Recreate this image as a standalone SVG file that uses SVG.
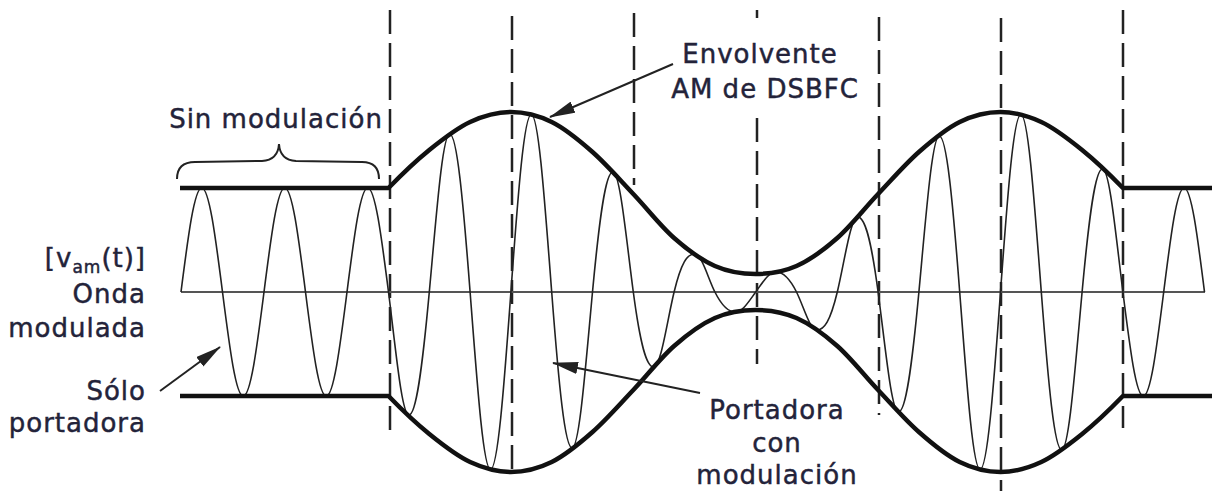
<svg xmlns="http://www.w3.org/2000/svg" width="1215" height="491" viewBox="0 0 1215 491">
<style>
.lbl{font-family:"DejaVu Sans","Liberation Sans",sans-serif;font-size:26px;fill:#23233a;stroke:#23233a;stroke-width:0.45;letter-spacing:1px}
.env{fill:none;stroke:#111;stroke-width:4.5;stroke-linejoin:round;stroke-linecap:butt}
.car{fill:none;stroke:#222;stroke-width:1.6}
.axis{stroke:#555;stroke-width:2}
.dash{stroke:#222;stroke-width:2.5;stroke-dasharray:24 9}
.arr{stroke:#222;stroke-width:2;fill:none;marker-end:url(#ah)}
.brace{fill:none;stroke:#222;stroke-width:2}
</style>
<defs>
<marker id="ah" markerUnits="userSpaceOnUse" markerWidth="26" markerHeight="12" refX="25" refY="6" orient="auto">
<path d="M0,0 L26,6 L0,12 z" fill="#222"/>
</marker>
</defs>
<rect width="1215" height="491" fill="#fff"/>
<g id="guides">
<line class="dash" x1="390" y1="10" x2="390" y2="430"/>
<line class="dash" x1="512" y1="16" x2="512" y2="478"/>
<line class="dash" x1="634" y1="13" x2="634" y2="185"/>
<line class="dash" x1="757" y1="10" x2="757" y2="18"/>
<line class="dash" x1="757" y1="118" x2="757" y2="364"/>
<line class="dash" x1="879" y1="17" x2="879" y2="415"/>
<line class="dash" x1="1001" y1="18" x2="1001" y2="491"/>
<line class="dash" x1="1123" y1="10" x2="1123" y2="428"/>
</g>
<g id="axis"><line class="axis" x1="181" y1="292" x2="1205" y2="292"/></g>
<g id="carrier">
<path class="car" d="M 181 292 C 188.3 234.6 194.45 188 201.75 188 S 215.2 234.6 222.5 292 S 235.95 396 243.25 396 S 256.7 349.4 264 292 S 277.45 188 284.75 188 S 298.2 234.6 305.5 292 S 318.95 396 326.25 396 S 339.7 349.4 347 292 S 360.45 188 367.75 188 S 381.2 234.6 388.5 292 S 401.7 415 408.9 415 S 422.1 370.4 429.3 292 S 442.5 134 449.7 134 S 462.9 198.1 470.1 292 S 483.3 469.5 490.5 469.5 S 503.7 391.4 510.9 292 S 524.1 114.5 531.3 114.5 S 544.5 198.1 551.7 292 S 564.9 448 572.1 448 S 585.3 369.3 592.5 292 S 605.7 172 612.9 172 S 626.1 237.9 633.3 292 S 646.5 367 653.7 367 S 666.9 321.8 674.1 292 S 687.3 254 694.5 254 S 707.7 277.6 714.9 292 S 728.1 312 735.3 312 S 748.5 301.9 755.7 292 S 768.9 272 776.1 272 S 789.3 277.6 796.5 292 S 809.7 330 816.9 330 S 830.1 321.8 837.3 292 S 850.5 217 857.7 217 S 870.9 237.9 878.1 292 S 891.3 412 898.5 412 S 911.7 369.3 918.9 292 S 932.1 136 939.3 136 S 952.5 198.1 959.7 292 S 972.9 469.5 980.1 469.5 S 993.3 391.4 1000.5 292 S 1013.7 114.5 1020.9 114.5 S 1034.1 198.1 1041.3 292 S 1054.5 450 1061.7 450 S 1074.9 370.4 1082.1 292 S 1095.3 169 1102.5 169 S 1115.7 234.6 1122.9 292 S 1136.1 396 1143.3 396 S 1156.5 349.4 1163.7 292 S 1176.9 188 1184.1 188 S 1197.3 234.6 1204.5 292"/>
</g>
<g id="envelope">
<path class="env" d="M 180 188 H 388.5 C 402.1 174 415.7 161 429.3 150 S 456.5 128.3 470.1 122 S 497.3 112 510.9 112 S 538.1 115.3 551.7 122 S 578.9 140 592.5 152 S 619.7 179.7 633.3 194 S 660.5 226 674.1 238 S 701.3 260 714.9 266 S 742.1 274 755.7 274 S 782.9 272 796.5 266 S 823.7 250 837.3 238 S 864.5 208.3 878.1 194 S 905.3 164 918.9 152 S 946.1 128.7 959.7 122 S 986.9 112 1000.5 112 S 1027.7 115.7 1041.3 122 S 1068.5 139 1082.1 150 S 1109.3 174 1122.9 188 H 1212"/>
<path class="env" d="M 180 396 H 388.5 C 402.1 410 415.7 423 429.3 434 S 456.5 455.7 470.1 462 S 497.3 472 510.9 472 S 538.1 468.7 551.7 462 S 578.9 444 592.5 432 S 619.7 404.3 633.3 390 S 660.5 358 674.1 346 S 701.3 324 714.9 318 S 742.1 310 755.7 310 S 782.9 312 796.5 318 S 823.7 334 837.3 346 S 864.5 375.7 878.1 390 S 905.3 420 918.9 432 S 946.1 455.3 959.7 462 S 986.9 472 1000.5 472 S 1027.7 468.3 1041.3 462 S 1068.5 445 1082.1 434 S 1109.3 410 1122.9 396 H 1212"/>
</g>
<g id="label-sin-modulacion">
<text class="lbl" x="276" y="128" text-anchor="middle">Sin modulación</text>
<path class="brace" d="M 177 179 Q 177 162 195 162 L 262 161 Q 278 160 279 144 Q 280 160 296 161 L 362 162 Q 379 162 379 179"/>
</g>
<g id="label-envolvente">
<text class="lbl" x="760" y="63" text-anchor="middle">Envolvente</text>
<text class="lbl" x="765" y="98" text-anchor="middle">AM de DSBFC</text>
</g>
<g id="label-onda">
<text class="lbl" x="146" y="267" text-anchor="end">[v<tspan font-size="17" dy="6">am</tspan><tspan dy="-6">(t)]</tspan></text>
<text class="lbl" x="146" y="303" text-anchor="end">Onda</text>
<text class="lbl" x="146" y="337" text-anchor="end">modulada</text>
</g>
<g id="label-solo">
<text class="lbl" x="146" y="400" text-anchor="end">Sólo</text>
<text class="lbl" x="146" y="432" text-anchor="end">portadora</text>
</g>
<g id="label-portadora">
<text class="lbl" x="777" y="419" text-anchor="middle">Portadora</text>
<text class="lbl" x="777" y="452" text-anchor="middle">con</text>
<text class="lbl" x="777" y="484" text-anchor="middle">modulación</text>
</g>
<g id="connectors">
<line class="arr" x1="673" y1="64" x2="550" y2="117"/>
<line class="arr" x1="160" y1="391" x2="220" y2="347"/>
<line class="arr" x1="700" y1="393" x2="553" y2="363"/>
</g>
</svg>
